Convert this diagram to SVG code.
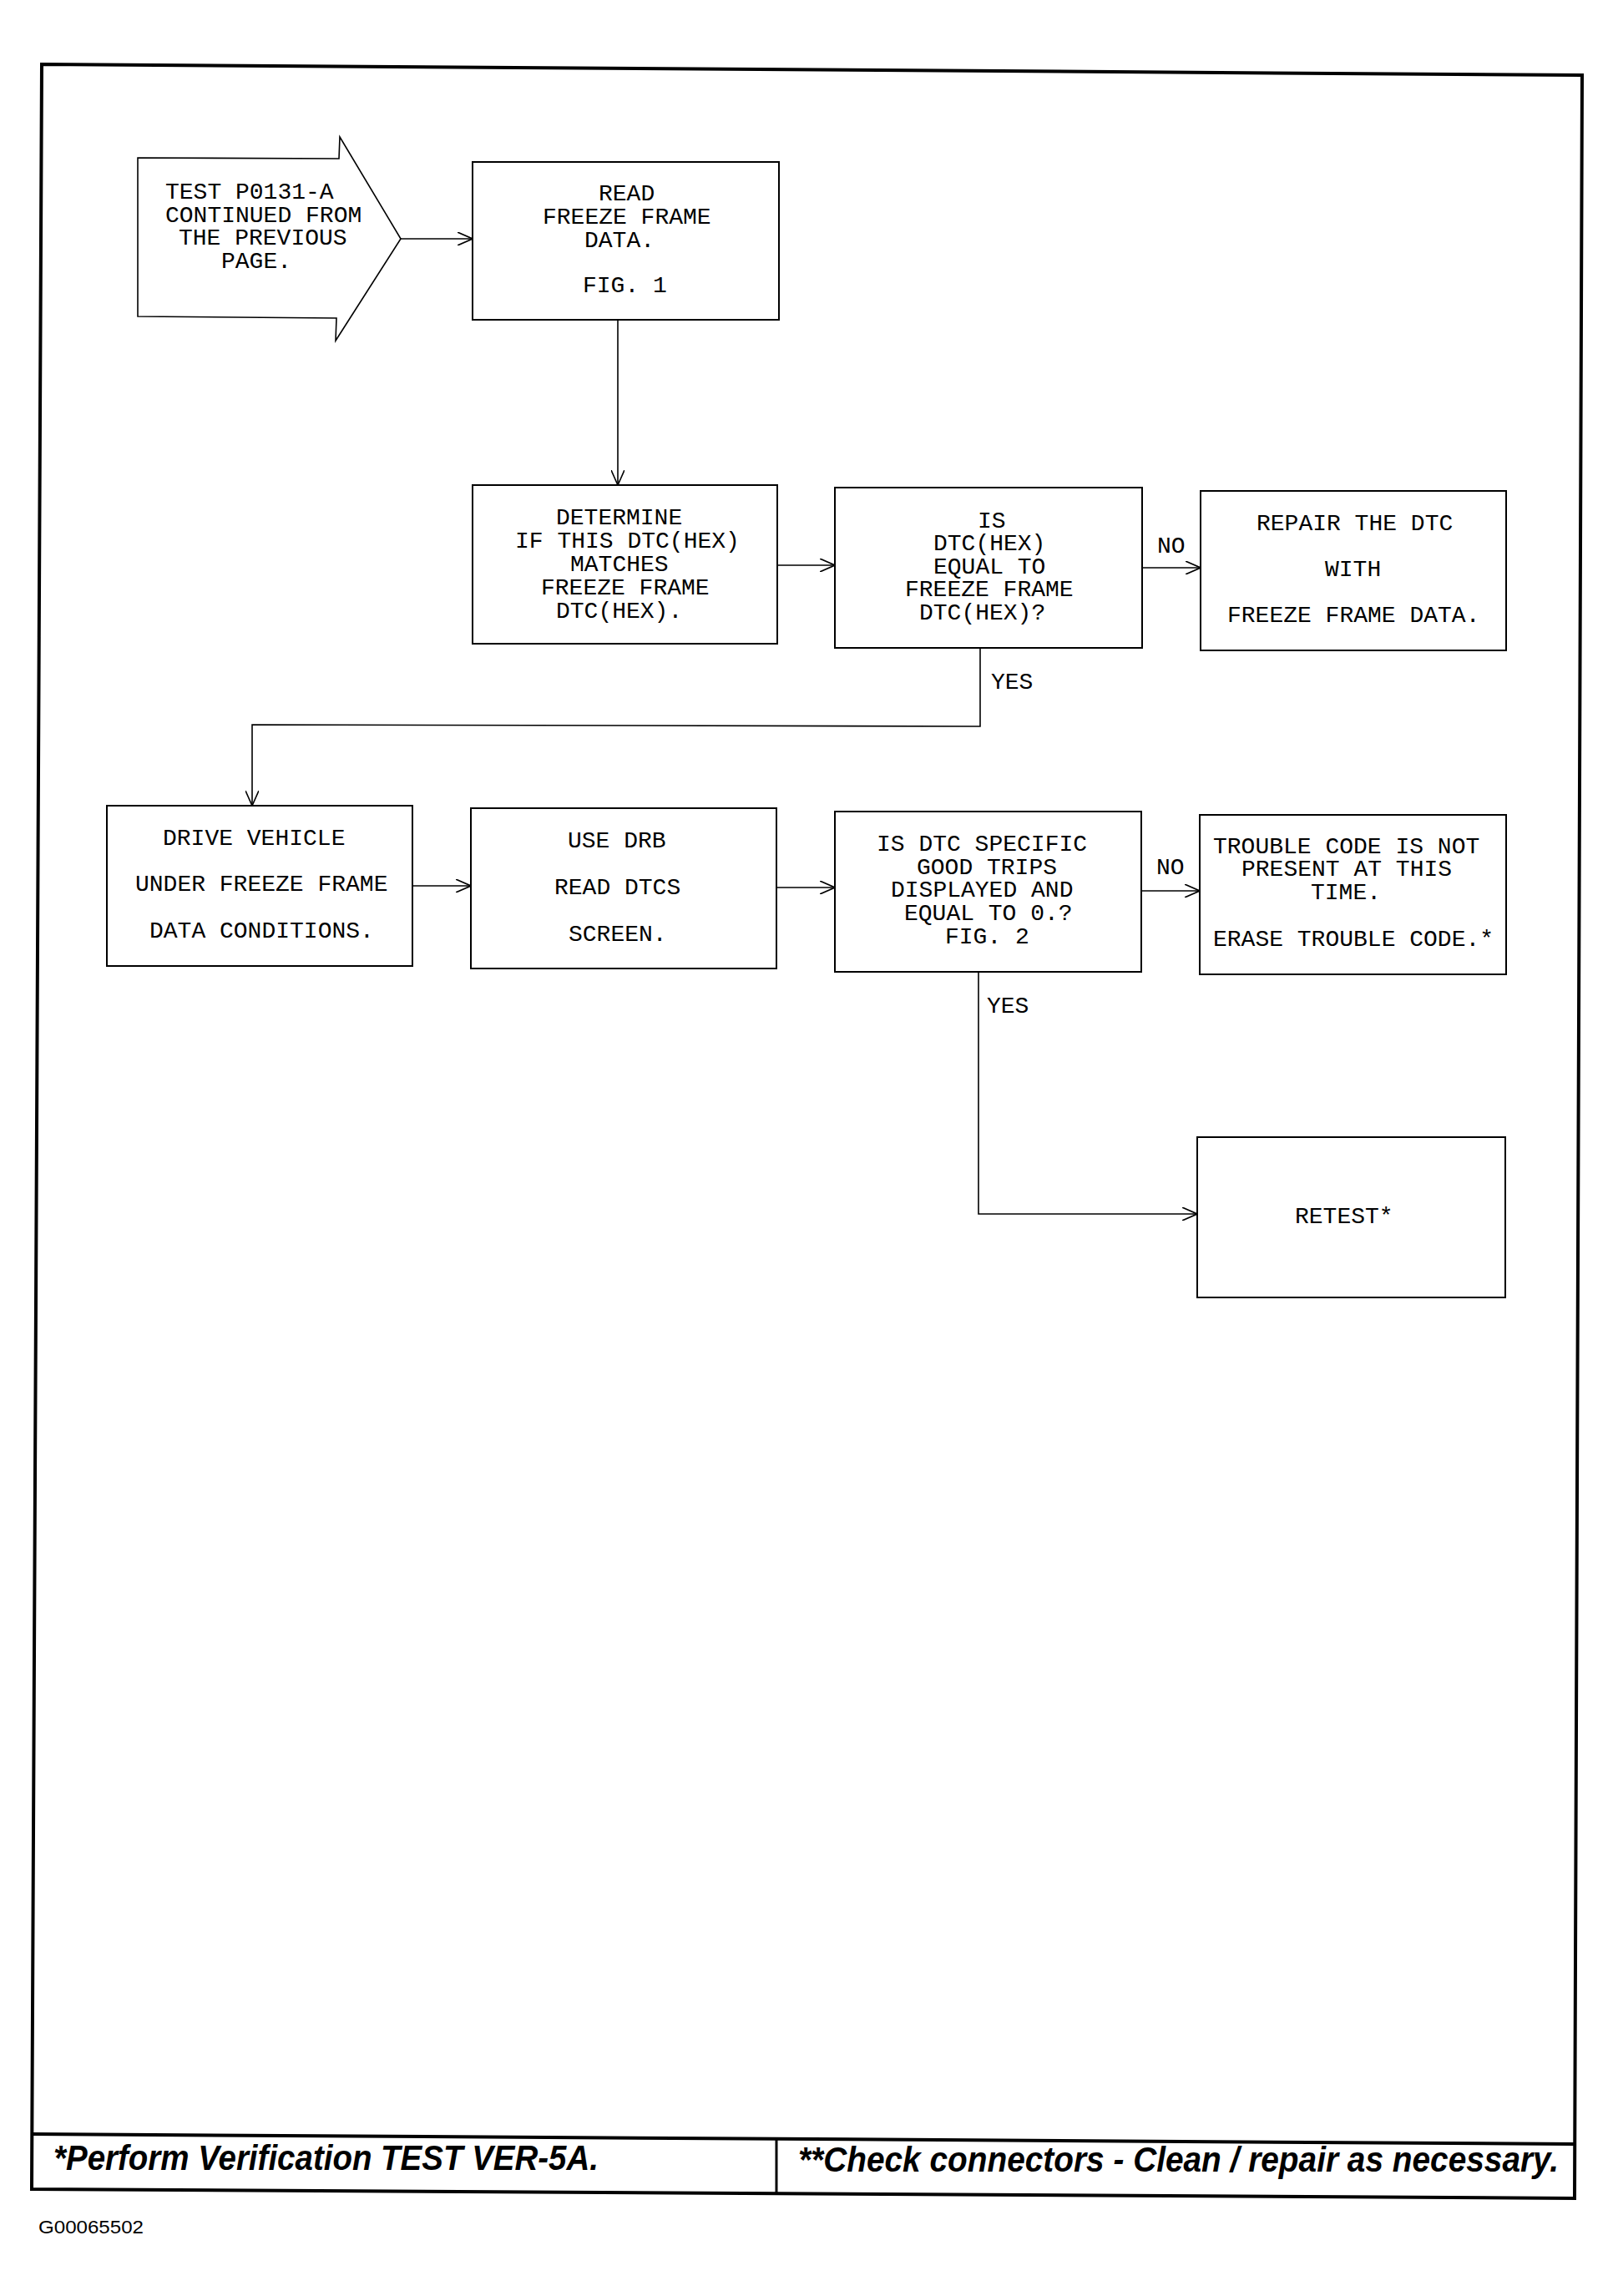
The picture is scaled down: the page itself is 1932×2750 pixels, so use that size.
<svg xmlns="http://www.w3.org/2000/svg" width="1932" height="2750" viewBox="0 0 1932 2750">
<style>
.box{fill:#fff;stroke:#000;stroke-width:2}
.t{font-family:"Liberation Mono","DejaVu Sans Mono",monospace;font-size:28px;fill:#000}
.c{fill:none;stroke:#000;stroke-width:1.6}
.frame{fill:none;stroke:#000;stroke-width:4}
.foot{font-family:"Liberation Sans",Arial,sans-serif;font-size:42px;font-weight:bold;font-style:italic;fill:#000}
</style>
<defs>
<marker id="arr" viewBox="0 0 18 16" refX="18" refY="8" markerWidth="18" markerHeight="16" markerUnits="userSpaceOnUse" orient="auto">
<path d="M0,0 L18,8 L0,16" fill="none" stroke="#000" stroke-width="1.6"/>
</marker>
</defs>
<rect x="0" y="0" width="1932" height="2750" fill="#fff"/>
<g id="frame">
<path class="frame" d="M50,77 L1895,90 L1886,2633 L38,2622 Z"/>
<path class="frame" d="M38,2556 L1886,2568"/>
<path fill="none" stroke="#000" stroke-width="3" d="M930,2560 L930,2626"/>
<text class="foot" x="64" y="2599" textLength="653" lengthAdjust="spacingAndGlyphs">*Perform Verification TEST VER-5A.</text>
<text class="foot" x="956" y="2601" textLength="911" lengthAdjust="spacingAndGlyphs">**Check connectors - Clean / repair as necessary.</text>
<text x="46" y="2675" font-family="Liberation Sans,Arial,sans-serif" font-size="22" textLength="126" lengthAdjust="spacingAndGlyphs">G00065502</text>
</g>
<g id="connectors">
<path class="c" d="M480,286 L566,286" marker-end="url(#arr)"/>
<path class="c" d="M740,384 L740,581" marker-end="url(#arr)"/>
<path class="c" d="M931,677 L1000,677" marker-end="url(#arr)"/>
<path class="c" d="M1368,680 L1438,680" marker-end="url(#arr)"/>
<text class="t" x="1386" y="662">NO</text>
<path class="c" d="M1174,776 L1174,870 L302,868 L302,965" marker-end="url(#arr)"/>
<text class="t" x="1187" y="825">YES</text>
<path class="c" d="M494,1061 L564,1061" marker-end="url(#arr)"/>
<path class="c" d="M930,1063 L1000,1063" marker-end="url(#arr)"/>
<path class="c" d="M1367,1067 L1437,1067" marker-end="url(#arr)"/>
<text class="t" x="1385" y="1047">NO</text>
<path class="c" d="M1172,1164 L1172,1454 L1434,1454" marker-end="url(#arr)"/>
<text class="t" x="1182" y="1213">YES</text>
</g>
<g id="start">
<path fill="#fff" stroke="#000" stroke-width="1.6" d="M165,189 L406,190 L407,164 L480,286 L402,408 L403,381 L165,379 Z"/>
<text class="t" x="198" y="238">TEST P0131-A</text>
<text class="t" x="198" y="266">CONTINUED FROM</text>
<text class="t" x="214" y="293">THE PREVIOUS</text>
<text class="t" x="265" y="321">PAGE.</text>
</g>
<g id="read">
<rect class="box" x="566" y="194" width="367" height="189"/>
<text class="t" x="717" y="240">READ</text>
<text class="t" x="650" y="268">FREEZE FRAME</text>
<text class="t" x="700" y="296">DATA.</text>
<text class="t" x="698" y="350">FIG. 1</text>
</g>
<g id="determine">
<rect class="box" x="566" y="581" width="365" height="190"/>
<text class="t" x="666" y="628">DETERMINE</text>
<text class="t" x="617" y="656">IF THIS DTC(HEX)</text>
<text class="t" x="683" y="684">MATCHES</text>
<text class="t" x="648" y="712">FREEZE FRAME</text>
<text class="t" x="666" y="740">DTC(HEX).</text>
</g>
<g id="is-equal">
<rect class="box" x="1000" y="584" width="368" height="192"/>
<text class="t" x="1171" y="632">IS</text>
<text class="t" x="1118" y="659">DTC(HEX)</text>
<text class="t" x="1118" y="687">EQUAL TO</text>
<text class="t" x="1084" y="714">FREEZE FRAME</text>
<text class="t" x="1101" y="742">DTC(HEX)?</text>
</g>
<g id="repair">
<rect class="box" x="1438" y="588" width="366" height="191"/>
<text class="t" x="1505" y="635">REPAIR THE DTC</text>
<text class="t" x="1587" y="690">WITH</text>
<text class="t" x="1470" y="745">FREEZE FRAME DATA.</text>
</g>
<g id="drive">
<rect class="box" x="128" y="965" width="366" height="192"/>
<text class="t" x="195" y="1012">DRIVE VEHICLE</text>
<text class="t" x="162" y="1067">UNDER FREEZE FRAME</text>
<text class="t" x="179" y="1123">DATA CONDITIONS.</text>
</g>
<g id="use-drb">
<rect class="box" x="564" y="968" width="366" height="192"/>
<text class="t" x="680" y="1015">USE DRB</text>
<text class="t" x="664" y="1071">READ DTCS</text>
<text class="t" x="681" y="1127">SCREEN.</text>
</g>
<g id="is-dtc">
<rect class="box" x="1000" y="972" width="367" height="192"/>
<text class="t" x="1050" y="1019">IS DTC SPECIFIC</text>
<text class="t" x="1098" y="1047">GOOD TRIPS</text>
<text class="t" x="1067" y="1074">DISPLAYED AND</text>
<text class="t" x="1083" y="1102">EQUAL TO 0.?</text>
<text class="t" x="1132" y="1130">FIG. 2</text>
</g>
<g id="trouble">
<rect class="box" x="1437" y="976" width="367" height="191"/>
<text class="t" x="1453" y="1022">TROUBLE CODE IS NOT</text>
<text class="t" x="1487" y="1049">PRESENT AT THIS</text>
<text class="t" x="1570" y="1077">TIME.</text>
<text class="t" x="1453" y="1133">ERASE TROUBLE CODE.*</text>
</g>
<g id="retest">
<rect class="box" x="1434" y="1362" width="369" height="192"/>
<text class="t" x="1551" y="1465">RETEST*</text>
</g>
</svg>
